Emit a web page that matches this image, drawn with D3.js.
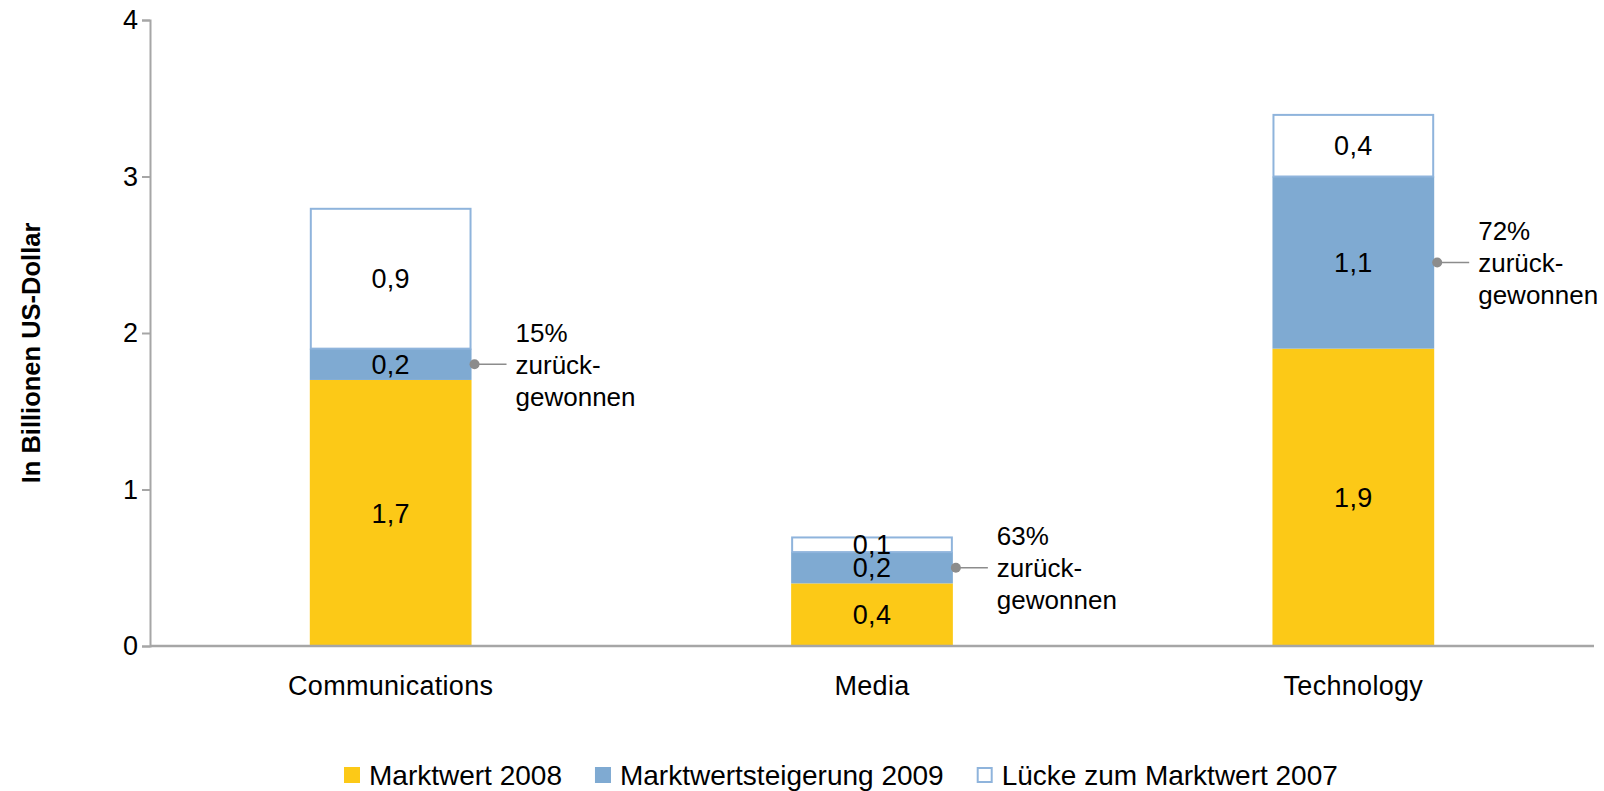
<!DOCTYPE html>
<html>
<head>
<meta charset="utf-8">
<script src="https://cdn.jsdelivr.net/npm/d3@7"></script>
<style>
  body { margin: 0; background: #fff; }
  svg text { font-family: "Liberation Sans", Arial, Helvetica, sans-serif; fill: #000; }
</style>
</head>
<body>
<script>
// categories and stacked values (in Billionen US-Dollar)
var categories = ["Communications", "Media", "Technology"];
var marktwert2008 = [1.7, 0.4, 1.9];
var steigerung2009 = [0.2, 0.2, 1.1];
var luecke2007 = [0.9, 0.1, 0.4];
// labels printed above the bars (Marktwert 2007, rounded as in source)
var totalLabels = ["2,8", "0,8", "3,5"];
var recovered = ["15%", "63%", "72%"];
var yTicks = [0, 1, 2, 3, 4];
var seriesNames = ["Marktwert 2008", "Marktwertsteigerung 2009", "Lücke zum Marktwert 2007"];

var W = 1604, H = 791;
var margin = { top: 20, right: 10, bottom: 145, left: 150 };
var width = W - margin.left - margin.right,
    height = H - margin.top - margin.bottom;

var colYellow = "#fcc917", colBlue = "#7faad2", colGapStroke = "#8fb4dc", colAxis = "#a6a6a6";
var fontSize = 27, spacing = 0.3;

var fmt = function(v) { return d3.format(".1f")(v).replace(".", ","); };

var svg = d3.select("body").append("svg")
    .attr("width", W)
    .attr("height", H);

var g = svg.append("g")
    .attr("transform", "translate(" + margin.left + "," + margin.top + ")");

var x = d3.scaleBand()
    .domain(categories)
    .range([0, width])
    .paddingInner(0.664)
    .paddingOuter(0.332);

var y = d3.scaleLinear()
    .domain([0, 4])
    .range([height, 0]);

// build stacked table
var table = categories.map(function(c, i) {
  return { cat: c, a: marktwert2008[i], b: steigerung2009[i], c: luecke2007[i] };
});
var stack = d3.stack().keys(["a", "b", "c"])(table);
var fills = { a: colYellow, b: colBlue, c: "#fff" };

// y axis
var yAxis = d3.axisLeft(y).tickValues(yTicks).tickSize(8).tickPadding(4).tickFormat(d3.format("d"));
var ya = g.append("g").call(yAxis);
ya.select(".domain").attr("stroke", colAxis).attr("stroke-width", 2);
ya.selectAll(".tick line").attr("stroke", colAxis).attr("stroke-width", 2);
ya.selectAll(".tick text")
    .style("font-size", fontSize + "px")
    .attr("fill", "#000");

// stacked bars
stack.forEach(function(layer) {
  var key = layer.key;
  g.selectAll(".bar-" + key)
      .data(layer)
    .enter().append("rect")
      .attr("class", "bar-" + key)
      .attr("x", function(d) { return x(d.data.cat) + (key === "c" ? 1 : 0); })
      .attr("width", x.bandwidth() - (key === "c" ? 2 : 0))
      .attr("y", function(d) { return y(d[1]) + (key === "c" ? 1 : 0); })
      .attr("height", function(d) { return y(d[0]) - y(d[1]) - (key === "c" ? 1 : 0); })
      .attr("fill", fills[key])
      .attr("stroke", key === "c" ? colGapStroke : "none")
      .attr("stroke-width", 2);
});

// x axis baseline
g.append("line")
    .attr("x1", 0).attr("x2", width)
    .attr("y1", y(0)).attr("y2", y(0))
    .attr("stroke", colAxis).attr("stroke-width", 2.5);

// segment labels
stack.forEach(function(layer) {
  g.selectAll(".lab-" + layer.key)
      .data(layer)
    .enter().append("text")
      .attr("x", function(d) { return x(d.data.cat) + x.bandwidth() / 2; })
      .attr("y", function(d) { return (y(d[0]) + y(d[1])) / 2; })
      .attr("dy", "0.36em")
      .attr("text-anchor", "middle")
      .style("font-size", fontSize + "px")
      .style("letter-spacing", spacing + "px")
      .text(function(d) { return fmt(d.data[layer.key]); });
});

// totals above bars
var top = stack[2];
g.selectAll(".total")
    .data(top)
  .enter().append("text")
    .attr("x", function(d) { return x(d.data.cat) + x.bandwidth() / 2; })
    .attr("y", function(d) { return y(d[1]) - 35; })
    .attr("dy", "0.36em")
    .attr("text-anchor", "middle")
    .style("font-size", fontSize + "px")
    .style("letter-spacing", spacing + "px")
    .text(function(d, i) { return totalLabels[i]; });

// "zurückgewonnen" callouts at the middle of the blue segment
var blue = stack[1];
blue.forEach(function(d, i) {
  var bx = x(d.data.cat) + x.bandwidth();
  var by = (y(d[0]) + y(d[1])) / 2;
  g.append("line")
      .attr("x1", bx + 3).attr("x2", bx + 35)
      .attr("y1", by).attr("y2", by)
      .attr("stroke", "#8c8c8c").attr("stroke-width", 1.5);
  g.append("circle")
      .attr("cx", bx + 3).attr("cy", by).attr("r", 5)
      .attr("fill", "#8c8c8c");
  var t = g.append("text")
      .attr("x", bx + 44).attr("y", by)
      .style("font-size", "26px");
  [recovered[i], "zurück-", "gewonnen"].forEach(function(s, k) {
    t.append("tspan")
        .attr("x", bx + 44)
        .attr("y", by + (k - 1) * 32)
        .attr("dy", "0.36em")
        .text(s);
  });
});

// category labels
g.selectAll(".cat")
    .data(categories)
  .enter().append("text")
    .attr("x", function(d) { return x(d) + x.bandwidth() / 2; })
    .attr("y", height + 39)
    .attr("dy", "0.36em")
    .attr("text-anchor", "middle")
    .style("font-size", fontSize + "px")
    .style("letter-spacing", spacing + "px")
    .text(function(d) { return d; });

// y axis title
svg.append("text")
    .attr("transform", "translate(31," + (margin.top + height / 2 + 20) + ")rotate(-90)")
    .attr("dy", "0.36em")
    .attr("text-anchor", "middle")
    .style("font-size", "25.5px")
    .style("font-weight", "bold")
    .text("In Billionen US-Dollar");

// legend
var legend = svg.append("g").attr("transform", "translate(344,775)");
var lx = 0;
seriesNames.forEach(function(name, i) {
  var item = legend.append("g").attr("transform", "translate(" + lx + ",0)");
  item.append("rect")
      .attr("x", i === 2 ? 1 : 0).attr("y", -8 + (i === 2 ? 1 : 0))
      .attr("width", i === 2 ? 14 : 16).attr("height", i === 2 ? 14 : 16)
      .attr("fill", [colYellow, colBlue, "#fff"][i])
      .attr("stroke", i === 2 ? colGapStroke : "none")
      .attr("stroke-width", 2);
  var txt = item.append("text")
      .attr("x", 25).attr("y", 0).attr("dy", "0.36em")
      .style("font-size", "28px")
      .text(name);
  lx += 25 + txt.node().getComputedTextLength() + 33;
});
</script>
</body>
</html>
